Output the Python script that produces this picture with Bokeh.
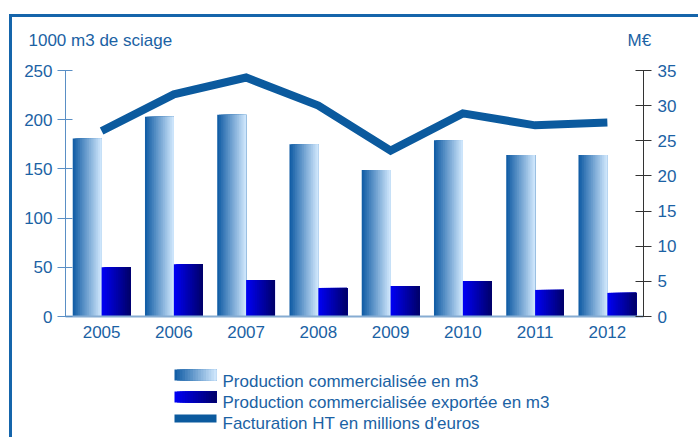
import numpy as np
from bokeh.plotting import figure
from bokeh.models import Range1d, LinearAxis, FixedTicker, Label, BoxAnnotation, ColumnDataSource
from bokeh.embed import file_html
from bokeh.resources import INLINE

# ---- data ----
years = ["2005", "2006", "2007", "2008", "2009", "2010", "2011", "2012"]
production = [181, 203, 205, 175, 149, 179, 164, 164]
exported = [50, 53, 37, 29, 31, 36, 27, 24]
revenue = [26.4, 31.6, 34.0, 30.0, 23.6, 28.9, 27.2, 27.6]
left_ticks = [0, 50, 100, 150, 200, 250]
right_ticks = [0, 5, 10, 15, 20, 25, 30, 35]
left_title = "1000 m3 de sciage"
right_title = "M€"
legend_labels = ["Production commercialisée en m3",
                 "Production commercialisée exportée en m3",
                 "Facturation HT en millions d'euros"]

TEXT = "#1b62a4"
FONT = "Liberation Sans"
FS = "17px"
LINE = "#0b5a9e"
BORDER = "#1565ab"
LIGHT = ("#135ea6", "#cde5fb")
DARK = ("#0000f2", "#00006c")
N = 16

W, H = 698, 437
# canvas frame (whole drawing area inside the outer border) and plotting area
CL, CT = 8, 13
PL, PR, PT, PB = 65, 643, 70, 316
YMAX, EMAX = 250, 35
ncat = len(years)

xppu = (PR - PL) / ncat
yppu = (PB - PT) / YMAX
x_start, x_end = -(PL - CL) / xppu, ncat + (W - PR) / xppu
y_start, y_end = -(H - PB) / yppu, YMAX + (PT - CT) / yppu
k_eur = EMAX / YMAX


def hex2rgb(h):
    h = h.lstrip("#")
    return np.array([int(h[i:i + 2], 16) for i in (0, 2, 4)], float)


def ramp(c0, c1, n):
    a, b = hex2rgb(c0), hex2rgb(c1)
    out = []
    for t in np.linspace(0, 1, n):
        r, g, bb = (a + (b - a) * t).round().astype(int)
        out.append("#%02x%02x%02x" % (r, g, bb))
    return out


def dx(px):
    return (px - PL) / xppu


def dy(py):
    return (PB - py) / yppu


light_cols = ramp(*LIGHT, N)
dark_cols = ramp(*DARK, N)

p = figure(width=W, height=H, output_backend="svg", toolbar_location=None,
           x_range=Range1d(x_start, x_end), y_range=Range1d(y_start, y_end),
           min_border_left=CL, min_border_right=0, min_border_top=CT, min_border_bottom=0)
p.outline_line_color = None
p.grid.visible = False

centers = [i + 0.5 for i in range(ncat)]
bw = 0.4


def strips(vals, offset, cols):
    L, R, T, B, C = [], [], [], [], []
    for c, v in zip(centers, vals):
        for k in range(N):
            L.append(c + offset + k * bw / N)
            R.append(c + offset + bw)
            T.append(v)
            B.append(0)
            C.append(cols[k])
    return ColumnDataSource(dict(left=L, right=R, top=T, bottom=B, color=C))


p.quad(source=strips(production, -bw, light_cols), left="left", right="right", top="top",
       bottom="bottom", fill_color="color", line_color=None)
p.quad(source=strips(exported, 0, dark_cols), left="left", right="right", top="top",
       bottom="bottom", fill_color="color", line_color=None)

p.extra_y_ranges = {"eur": Range1d(y_start * k_eur, y_end * k_eur)}
p.line(centers, revenue, y_range_name="eur", line_width=8, line_color=LINE, line_join="miter")

# axes (kept in their side panels, drawn at fixed locations inside the bordered area)
xa = p.xaxis[0]
xa.fixed_location = 0
xa.bounds = (0, ncat)
xa.ticker = FixedTicker(ticks=centers)
xa.major_label_overrides = {c: y for c, y in zip(centers, years)}
xa.axis_line_color = "#86acd2"
xa.axis_line_width = 2
xa.major_tick_line_color = None
xa.minor_tick_line_color = None
xa.major_label_standoff = 3

ya = p.yaxis[0]
ya.fixed_location = 0
ya.bounds = (0, YMAX)
ya.ticker = FixedTicker(ticks=left_ticks)
ya.axis_line_color = "#5a8fc5"
ya.major_tick_line_color = "#5a8fc5"
ya.major_tick_in = 7
ya.major_tick_out = 8
ya.minor_tick_line_color = None
ya.major_label_standoff = 5

ra = LinearAxis(y_range_name="eur", ticker=FixedTicker(ticks=right_ticks),
                fixed_location=ncat, bounds=(0, EMAX))
ra.axis_line_color = "#333333"
ra.major_tick_line_color = "#333333"
ra.major_tick_in = 8
ra.major_tick_out = 8
ra.minor_tick_line_color = None
ra.major_label_standoff = 6
p.add_layout(ra, "right")

for ax in (xa, ya, ra):
    ax.major_label_text_color = TEXT
    ax.major_label_text_font = FONT
    ax.major_label_text_font_size = FS

# outer border (top and left edges only; right/bottom fall outside the picture)
p.add_layout(BoxAnnotation(left=dx(8.5), right=dx(W), top=dy(13.5), bottom=dy(16.5),
                           fill_color=BORDER, fill_alpha=1, line_color=None))
p.add_layout(BoxAnnotation(left=dx(8.5), right=dx(11.5), top=dy(13.5), bottom=dy(H),
                           fill_color=BORDER, fill_alpha=1, line_color=None))

TXT = dict(x_units="canvas", y_units="canvas", text_color=TEXT, text_font=FONT,
           text_font_size=FS, text_baseline="alphabetic")
p.add_layout(Label(x=28, y=40, text=left_title, **TXT))
p.add_layout(Label(x=627, y=40, text=right_title, **TXT))

# legend (manual, gradient swatches)
gx0, gx1 = 174, 216
rows = [(369, 380), (391, 402), (414, 422)]
w = (gx1 - gx0) / N
for (top, bot), cols in zip(rows[:2], (light_cols, dark_cols)):
    for k in range(N):
        p.add_layout(BoxAnnotation(left=dx(gx0 + k * w), right=dx(gx1), top=dy(top), bottom=dy(bot),
                                   fill_color=cols[k], fill_alpha=1, line_color=None))
p.add_layout(BoxAnnotation(left=dx(gx0), right=dx(gx1), top=dy(rows[2][0]), bottom=dy(rows[2][1]),
                           fill_color=LINE, fill_alpha=1, line_color=None))

baselines = [381, 402, 423]
for yb, lab in zip(baselines, legend_labels):
    p.add_layout(Label(x=222, y=yb, text=lab, **TXT))

open("out.html", "w").write(file_html(p, INLINE))
